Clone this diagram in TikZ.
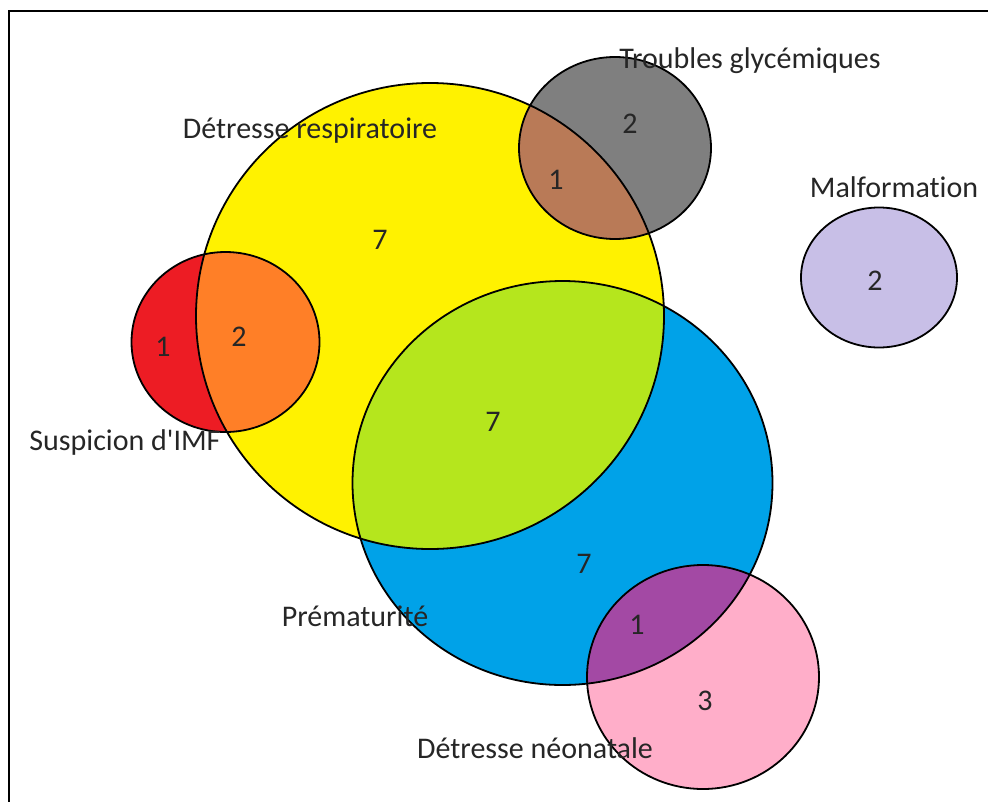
\documentclass[tikz,border=0pt]{standalone}
\usepackage{fontspec}
\setmainfont{Carlito}[Ligatures=NoCommon]

% Paint colours
\definecolor{respcol}{HTML}{FFF200}
\definecolor{premcol}{HTML}{00A2E8}
\definecolor{imfcol}{HTML}{ED1C24}
\definecolor{glyccol}{HTML}{7F7F7F}
\definecolor{malfcol}{HTML}{C8BFE7}
\definecolor{neocol}{HTML}{FFAEC9}
\definecolor{respprem}{HTML}{B5E61D}
\definecolor{respimf}{HTML}{FF7F27}
\definecolor{respglyc}{HTML}{B97A57}
\definecolor{premneo}{HTML}{A349A4}

\begin{document}
\begin{tikzpicture}[x=1pt, y=-1pt,
            % Styles
            respset/.style={insert path={(resp) ellipse [x radius=234pt, y radius=233pt]}},
            premset/.style={insert path={(prem) ellipse [x radius=210pt, y radius=202pt]}},
            imfset/.style={insert path={(imf) ellipse [x radius=94pt, y radius=90pt]}},
            glycset/.style={insert path={(glyc) ellipse [x radius=96pt, y radius=91pt]}},
            malfset/.style={insert path={(malf) ellipse [x radius=78pt, y radius=70pt]}},
            neoset/.style={insert path={(neo) ellipse [x radius=116pt, y radius=112pt]}},
            rim/.style={draw=black, line width=1.8pt},
            setname/.style={font=\fontsize{30}{36}\selectfont, anchor=base, inner sep=0pt, text=black!85},
            count/.style={font=\fontsize{30}{36}\selectfont, inner sep=0pt, text=black!85}
        ]

        \useasboundingbox (0,0) rectangle (988,801);

        % Frame
        \draw[line width=2pt] (8.5,805) -- (8.5,10.5) -- (992,10.5);

        % Set centres
        \coordinate (resp) at (430,316);
        \coordinate (prem) at (562.5,483);
        \coordinate (imf) at (225.5,342);
        \coordinate (glyc) at (615,148);
        \coordinate (malf) at (879,277.5);
        \coordinate (neo) at (703,677);

        % Sets
        \fill[respcol, respset];
        \fill[premcol, premset];
        \fill[imfcol, imfset];
        \fill[glyccol, glycset];
        \fill[malfcol, malfset];
        \fill[neocol, neoset];

        % Overlaps
        \begin{scope}
            \clip[respset];
            \fill[respprem, premset];
            \fill[respimf, imfset];
            \fill[respglyc, glycset];
        \end{scope}
        \begin{scope}
            \clip[premset];
            \fill[premneo, neoset];
        \end{scope}

        % Outlines
        \path[rim, respset];
        \path[rim, premset];
        \path[rim, imfset];
        \path[rim, glycset];
        \path[rim, malfset];
        \path[rim, neoset];

        % Set names
        \node[setname] (respname) at (310,138) {Détresse respiratoire};
        \node[setname] (glycname) at (750,68) {Troubles glycémiques};
        \node[setname] (malfname) at (894,197) {Malformation};
        \node[setname] (imfname) at (125,450) {Suspicion d\textquotesingle IMF};
        \node[setname] (premname) at (355,626) {Prématurité};
        \node[setname] (neoname) at (535,758) {Détresse néonatale};

        % Counts
        \node[count] (nresp) at (380,240) {7};
        \node[count] (nglyc) at (630,124) {2};
        \node[count] (nrespglyc) at (556,180) {1};
        \node[count] (nmalf) at (875,281) {2};
        \node[count] (nimf) at (163,347) {1};
        \node[count] (nrespimf) at (239,337) {2};
        \node[count] (nrespprem) at (493,422) {7};
        \node[count] (nprem) at (584,564) {7};
        \node[count] (npremneo) at (637,625) {1};
        \node[count] (nneo) at (705,701) {3};

    \end{tikzpicture}
\end{document}
